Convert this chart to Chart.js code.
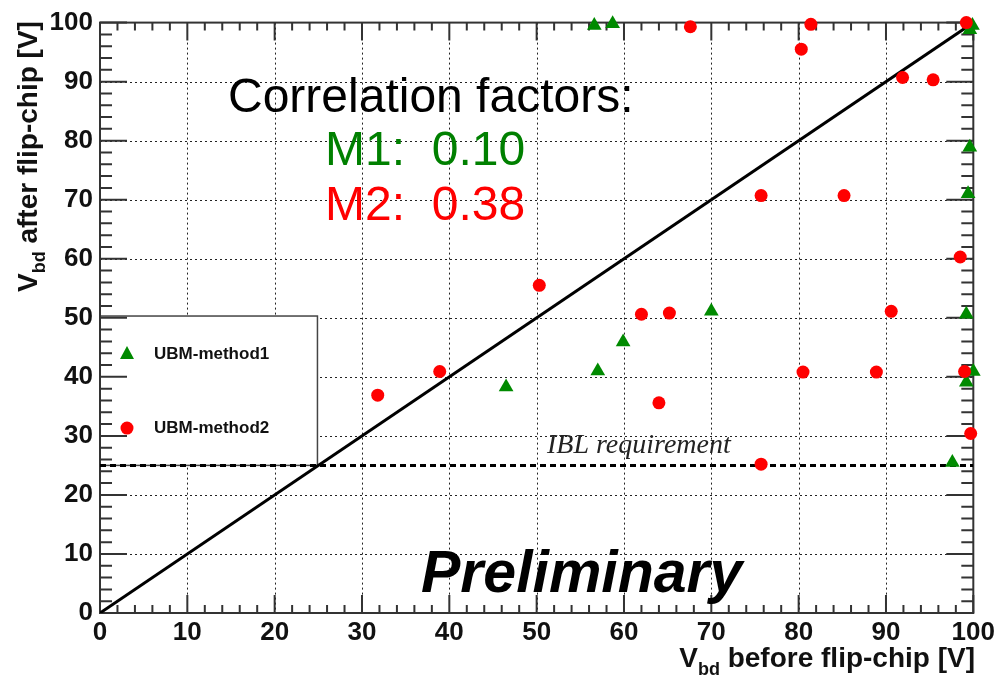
<!DOCTYPE html>
<html lang="en">
<head>
    <meta charset="UTF-8">
    <title>Vbd before and after flip-chip</title>
    <script src="https://cdn.jsdelivr.net/npm/chart.js"></script>
    <style>
        * { margin: 0; padding: 0; box-sizing: border-box; }
        body { background: #fff; width: 999px; height: 678px; overflow: hidden; }
        .wrap { position: relative; width: 999px; height: 678px; }
    </style>
</head>
<body>
    <div class="wrap"><canvas id="corr"></canvas></div>
    <script>
        // UBM-method1 (green triangles)
        const m1X = [56.6, 58.7, 46.5, 57.0, 59.9, 70.0, 97.6, 99.2, 99.2, 100.0, 99.6, 99.4, 99.6, 99.9];
        const m1Y = [99.5, 99.8, 38.3, 41.0, 45.9, 51.1, 25.5, 50.6, 39.1, 40.9, 78.9, 71.0, 98.8, 99.5];
        // UBM-method2 (red circles)
        const m2X = [67.6, 81.4, 80.3, 99.2, 91.9, 95.4, 75.7, 85.2, 98.5, 50.3, 62.0, 65.2, 90.6, 31.8, 38.9, 64.0, 80.5, 88.9, 99.0, 99.7, 75.7];
        const m2Y = [99.3, 99.7, 95.5, 100.0, 90.7, 90.3, 70.7, 70.7, 60.3, 55.5, 50.6, 50.8, 51.1, 36.9, 40.9, 35.6, 40.8, 40.8, 40.9, 30.4, 25.2];
        // x = y reference line and IBL requirement
        const diagX = [0, 100];
        const diagY = [0, 100];
        const iblX = [0, 100];
        const iblY = [25, 25];
        const legendLabels = ['UBM-method1', 'UBM-method2'];
        const corrTitle = 'Correlation factors:';
        const corrLabels = ['M1:  0.10', 'M2:  0.38'];

        const GREEN = '#008a00';
        const RED = '#ff0000';

        function pts(xs, ys) {
            return xs.map((x, i) => ({ x: x, y: ys[i] }));
        }

        function drawTitle(ctx, x, y, rest, rightAlign) {
            ctx.font = 'bold 28px "Liberation Sans", Arial, sans-serif';
            const wV = ctx.measureText('V').width;
            const wR = ctx.measureText(rest).width;
            ctx.font = 'bold 18px "Liberation Sans", Arial, sans-serif';
            const wS = ctx.measureText('bd').width;
            let x0 = rightAlign ? x - (wV + wS + wR) : x;
            ctx.fillStyle = '#111';
            ctx.textAlign = 'left';
            ctx.textBaseline = 'alphabetic';
            ctx.font = 'bold 28px "Liberation Sans", Arial, sans-serif';
            ctx.fillText('V', x0, y);
            ctx.font = 'bold 18px "Liberation Sans", Arial, sans-serif';
            ctx.fillText('bd', x0 + wV, y + 8);
            ctx.font = 'bold 28px "Liberation Sans", Arial, sans-serif';
            ctx.fillText(rest, x0 + wV + wS, y);
        }

        const framePlugin = {
            id: 'rootFrame',
            beforeDatasetsDraw(chart) {
                const ctx = chart.ctx;
                const xs = chart.scales.x, ys = chart.scales.y;
                const a = chart.chartArea;
                ctx.save();
                // dotted grid
                ctx.strokeStyle = '#222';
                ctx.lineWidth = 1;
                ctx.setLineDash([2, 3]);
                for (let v = 10; v < 100; v += 10) {
                    const px = Math.round(xs.getPixelForValue(v)) + 0.5;
                    const py = Math.round(ys.getPixelForValue(v)) + 0.5;
                    ctx.beginPath(); ctx.moveTo(px, a.top); ctx.lineTo(px, a.bottom); ctx.stroke();
                    ctx.beginPath(); ctx.moveTo(a.left, py); ctx.lineTo(a.right, py); ctx.stroke();
                }
                ctx.setLineDash([]);
                // legend box
                const lx0 = xs.getPixelForValue(0), lx1 = xs.getPixelForValue(24.9);
                const ly0 = ys.getPixelForValue(50.3), ly1 = ys.getPixelForValue(25);
                ctx.fillStyle = '#fff';
                ctx.fillRect(lx0, ly0, lx1 - lx0, ly1 - ly0);
                ctx.strokeStyle = '#444';
                ctx.lineWidth = 1.5;
                ctx.strokeRect(lx0, ly0, lx1 - lx0, ly1 - ly0);
                // legend markers and labels
                const mx = lx0 + 27;
                const rows = [ly0 + 38, ly0 + 112];
                ctx.fillStyle = GREEN;
                ctx.beginPath();
                ctx.moveTo(mx, rows[0] - 8);
                ctx.lineTo(mx + 7, rows[0] + 5);
                ctx.lineTo(mx - 7, rows[0] + 5);
                ctx.closePath();
                ctx.fill();
                ctx.fillStyle = RED;
                ctx.beginPath();
                ctx.arc(mx, rows[1], 6.5, 0, Math.PI * 2);
                ctx.fill();
                ctx.fillStyle = '#111';
                ctx.font = 'bold 17px "Liberation Sans", Arial, sans-serif';
                ctx.textBaseline = 'middle';
                ctx.textAlign = 'left';
                ctx.fillText(legendLabels[0], lx0 + 54, rows[0]);
                ctx.fillText(legendLabels[1], lx0 + 54, rows[1]);
                // frame
                ctx.strokeStyle = '#333';
                ctx.lineWidth = 2;
                ctx.strokeRect(a.left, a.top, a.right - a.left, a.bottom - a.top);
                // inward ticks on all four sides
                ctx.lineWidth = 2;
                for (let v = 0; v <= 100; v += 2) {
                    const major = v % 10 === 0;
                    const px = xs.getPixelForValue(v);
                    const py = ys.getPixelForValue(v);
                    const lh = major ? 18 : 8;
                    const lv = major ? 27 : 12;
                    ctx.beginPath();
                    ctx.moveTo(px, a.bottom); ctx.lineTo(px, a.bottom - lh);
                    ctx.moveTo(px, a.top); ctx.lineTo(px, a.top + lh);
                    ctx.moveTo(a.left, py); ctx.lineTo(a.left + lv, py);
                    ctx.moveTo(a.right, py); ctx.lineTo(a.right - lv, py);
                    ctx.stroke();
                }
                ctx.restore();
            },
            afterDraw(chart) {
                const ctx = chart.ctx;
                ctx.save();
                ctx.textAlign = 'left';
                ctx.textBaseline = 'alphabetic';
                ctx.font = '48px "Liberation Sans", Arial, sans-serif';
                ctx.fillStyle = '#000';
                ctx.fillText(corrTitle, 228, 112);
                ctx.fillStyle = '#008000';
                ctx.fillText(corrLabels[0], 325, 165);
                ctx.fillStyle = RED;
                ctx.fillText(corrLabels[1], 325, 220);
                ctx.fillStyle = '#000';
                ctx.font = 'italic bold 59px "Liberation Sans", Arial, sans-serif';
                ctx.fillText('Preliminary', 421, 592);
                ctx.fillStyle = '#222';
                ctx.font = 'italic 28px "Liberation Serif", "Times New Roman", serif';
                ctx.fillText('IBL requirement', 547, 453);
                // axis titles
                drawTitle(ctx, 975, 667, ' before flip-chip [V]', true);
                ctx.translate(37, 292);
                ctx.rotate(-Math.PI / 2);
                drawTitle(ctx, 0, 0, ' after flip-chip [V]', false);
                ctx.restore();
            }
        };

        const tickFont = { family: '"Liberation Sans", Arial, sans-serif', size: 26, weight: 'bold' };

        new Chart(document.getElementById('corr'), {
            type: 'scatter',
            data: {
                datasets: [
                    {
                        label: legendLabels[1],
                        data: pts(m2X, m2Y),
                        pointStyle: 'circle',
                        pointRadius: 6.5,
                        pointBackgroundColor: RED,
                        pointBorderWidth: 0,
                        clip: false
                    },
                    {
                        label: legendLabels[0],
                        data: pts(m1X, m1Y),
                        pointStyle: 'triangle',
                        pointRadius: 8.5,
                        pointBackgroundColor: GREEN,
                        pointBorderWidth: 0,
                        clip: false
                    },
                    {
                        type: 'line',
                        label: 'x = y',
                        data: pts(diagX, diagY),
                        borderColor: '#000',
                        borderWidth: 3,
                        pointRadius: 0,
                        fill: false
                    },
                    {
                        type: 'line',
                        label: 'IBL requirement',
                        data: pts(iblX, iblY),
                        borderColor: '#000',
                        borderWidth: 3,
                        borderDash: [6, 4],
                        pointRadius: 0,
                        fill: false
                    }
                ]
            },
            options: {
                responsive: true,
                maintainAspectRatio: false,
                animation: false,
                layout: { padding: { top: 17, right: 24, left: 0, bottom: 0 } },
                plugins: { legend: { display: false }, tooltip: { enabled: false } },
                scales: {
                    x: {
                        type: 'linear', min: 0, max: 100,
                        grid: { display: false, drawTicks: false },
                        border: { display: false },
                        ticks: { stepSize: 10, font: tickFont, color: '#111', padding: 4, maxRotation: 0 },
                        afterFit(s) { s.height = 65; }
                    },
                    y: {
                        type: 'linear', min: 0, max: 100,
                        grid: { display: false, drawTicks: false },
                        border: { display: false },
                        ticks: { stepSize: 10, font: tickFont, color: '#111', padding: 7 },
                        afterFit(s) { s.width = 100; }
                    }
                }
            },
            plugins: [framePlugin]
        });
    </script>
</body>
</html>
